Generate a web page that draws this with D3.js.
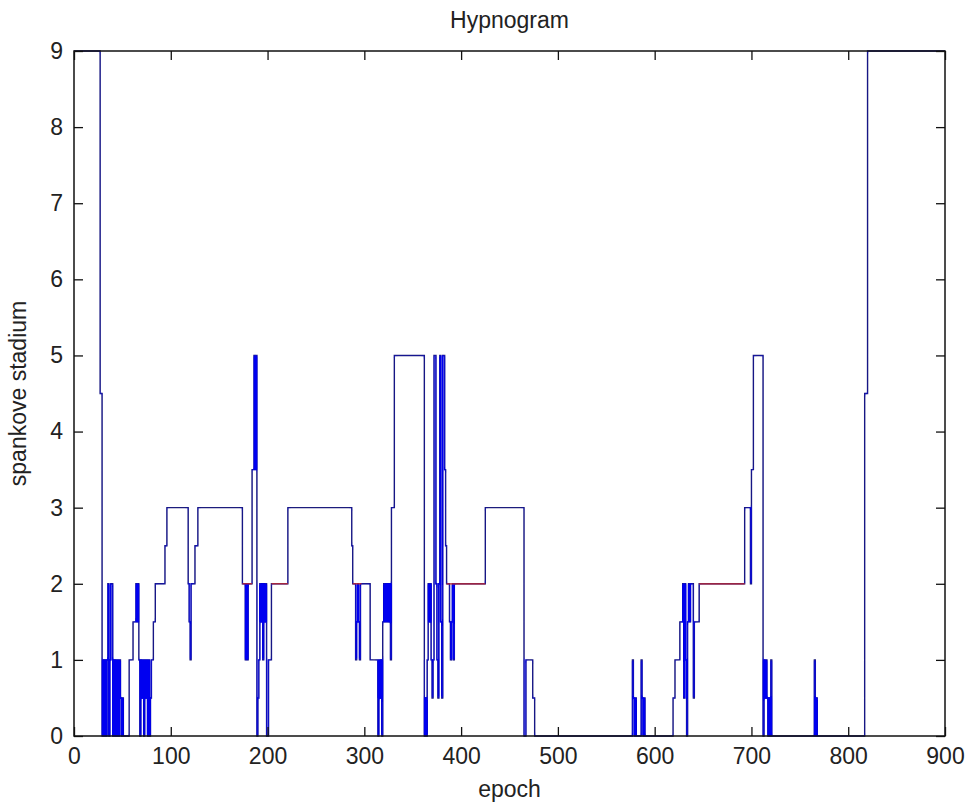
<!DOCTYPE html>
<html>
<head>
<meta charset="utf-8">
<script src="https://cdn.jsdelivr.net/npm/d3@7"></script>
<style>
  html, body { margin: 0; padding: 0; background: #fff; }
  svg { display: block; }
  text { font-family: "Liberation Sans", Arial, sans-serif; fill: #222; }
</style>
</head>
<body>
<svg id="chart" width="969" height="807"></svg>
<script>
// ---- data ----
const title = "Hypnogram";
const xLabel = "epoch";
const yLabel = "spankove stadium";
const xTicks = [0, 100, 200, 300, 400, 500, 600, 700, 800, 900];
const yTicks = [0, 1, 2, 3, 4, 5, 6, 7, 8, 9];

// stage changes: stage stepStage[i] holds from epoch stepEpoch[i] to the next change
const stepEpoch = [
  0, 27, 29, 30, 31, 32, 33, 34, 35, 36, 37, 38, 40, 41, 42, 43, 44, 45, 46, 47, 48, 49, 50, 51,
  57, 61, 64, 65, 66, 67, 68, 69, 70, 71, 72, 73, 74, 75, 76, 77, 78, 79, 80, 82, 84, 94, 96,
  118, 119, 120, 121, 125, 128,
  174, 177, 178, 179, 180, 184, 186, 187, 188, 189, 190, 191, 192, 193, 194, 195, 196, 197, 198,
  199, 201, 204, 221,
  287, 288, 291, 292, 293, 294, 295, 296, 306, 314, 315, 316, 317, 318, 319, 320, 321, 322, 323,
  324, 325, 326, 327, 328, 331,
  362, 363, 364, 365, 366, 367, 368, 369, 370, 371, 372, 374, 375, 376, 377, 378, 379, 380, 381,
  383, 384, 385, 388, 389, 390, 391, 392, 393, 425,
  465, 467, 474, 476,
  577, 578, 579, 580, 581, 586, 587, 588, 589, 590,
  619, 621, 626, 629, 630, 631, 632, 633, 634, 635, 636, 637, 640, 641, 646, 693, 699, 700, 702,
  712, 713, 714, 715, 716, 717, 718, 719, 720, 721,
  765, 766, 767, 768, 817, 820, 900
];
const stepStage = [
  9, 4.5, 0, 1, 0, 1, 0, 1, 2, 0, 1, 2, 0, 1, 0, 1, 0, 1, 0, 1, 0.5, 0, 0.5, 0,
  1, 1.5, 2, 1.5, 2, 1, 0, 1, 0.5, 1, 0, 1, 0.5, 1, 0, 1, 0, 0.5, 1, 1.5, 2, 2.5, 3,
  2, 1.5, 1, 2, 2.5, 3,
  2, 1, 2, 1, 2, 3.5, 5, 3.5, 5, 0, 0.5, 1, 2, 1.5, 2, 1, 2, 1.5, 2,
  0, 1, 2, 3,
  2.5, 2, 1, 1.5, 2, 1.5, 1, 2, 1, 0, 1, 0.5, 1, 0, 1.5, 2, 1.5, 2, 1.5,
  2, 1.5, 2, 1, 3, 5,
  0, 0.5, 0, 1, 2, 1.5, 2, 1, 0.5, 1, 5, 2, 1, 0.5, 2, 5, 1.5, 0.5, 5,
  3.5, 2.5, 2, 1.5, 1, 1.5, 2, 1, 2, 3,
  0, 1, 0.5, 0,
  1, 0.5, 0, 0.5, 0, 1, 0.5, 0, 0.5, 0,
  0.5, 1, 1.5, 2, 0.5, 2, 1, 0, 1.5, 2, 1.5, 2, 0.5, 1.5, 2, 3, 2, 3.5, 5,
  0, 1, 0.5, 1, 0.5, 0, 0.5, 0, 1, 0,
  1, 0, 0.5, 0, 4.5, 9, 9
];

// stage-2 plateaus drawn in red
const redStart = [174, 204, 288, 385, 646];
const redEnd   = [184, 221, 297, 425, 693];
const redStage = 2;

// ---- layout ----
const svg = d3.select("#chart");
const mLeft = 74, mRight = 945, mTop = 51, mBottom = 736;
const x = d3.scaleLinear().domain([0, 900]).range([mLeft, mRight]);
const y = d3.scaleLinear().domain([0, 9]).range([mBottom, mTop]);

svg.append("rect").attr("width", 969).attr("height", 807).attr("fill", "#fff");

// filter: thin isolated lines stay dark navy, dense clusters turn bright blue
const defs = svg.append("defs");
const f = defs.append("filter").attr("id", "dense")
  .attr("filterUnits", "userSpaceOnUse")
  .attr("x", 0).attr("y", 0).attr("width", 969).attr("height", 807);
f.append("feGaussianBlur").attr("in", "SourceAlpha").attr("stdDeviation", 1.4).attr("result", "blur");
f.append("feComponentTransfer").attr("in", "blur").attr("result", "dens")
  .append("feFuncA").attr("type", "linear").attr("slope", 2.6).attr("intercept", -0.85);
f.append("feFlood").attr("flood-color", "#0000f0").attr("result", "blue");
f.append("feComposite").attr("in", "blue").attr("in2", "dens").attr("operator", "in").attr("result", "bd");
f.append("feComposite").attr("in", "bd").attr("in2", "SourceAlpha").attr("operator", "in").attr("result", "bm");
const fm = f.append("feMerge");
fm.append("feMergeNode").attr("in", "SourceGraphic");
fm.append("feMergeNode").attr("in", "bm");

// data line
const pts = stepEpoch.map((e, i) => ({ e, v: stepStage[i] }));
const line = d3.line().x(d => x(d.e)).y(d => y(d.v)).curve(d3.curveStepAfter);
svg.append("g").attr("filter", "url(#dense)")
  .append("path")
  .datum(pts)
  .attr("d", line)
  .attr("fill", "none")
  .attr("stroke", "#1c1c7c")
  .attr("stroke-width", 1.4);

// red stage-2 segments
const redLine = d3.line().x(d => x(d[0])).y(d => y(d[1]));
redStart.forEach((s, i) => {
  svg.append("path")
    .attr("d", redLine([[s, redStage], [redEnd[i], redStage]]))
    .attr("fill", "none")
    .attr("stroke", "#c42a2a")
    .attr("stroke-width", 1.2);
});

// axes
const fontSize = 23;
const gx = svg.append("g").attr("transform", `translate(0,${mBottom})`)
  .call(d3.axisBottom(x).tickValues(xTicks).tickSizeInner(-9).tickSizeOuter(0).tickPadding(12));
const gxt = svg.append("g").attr("transform", `translate(0,${mTop})`)
  .call(d3.axisTop(x).tickValues(xTicks).tickSizeInner(-9).tickSizeOuter(0).tickFormat(""));
const gy = svg.append("g").attr("transform", `translate(${mLeft},0)`)
  .call(d3.axisLeft(y).tickValues(yTicks).tickSizeInner(-9).tickSizeOuter(0).tickPadding(11));
const gyr = svg.append("g").attr("transform", `translate(${mRight},0)`)
  .call(d3.axisRight(y).tickValues(yTicks).tickSizeInner(-9).tickSizeOuter(0).tickFormat(""));
[gx, gxt, gy, gyr].forEach(g => {
  g.select(".domain").remove();
  g.selectAll("line").attr("stroke", "#111").attr("stroke-width", 1.3);
  g.selectAll("text").attr("font-size", fontSize)
    .attr("font-family", '"Liberation Sans", Arial, sans-serif').attr("fill", "#222");
});

// box
svg.append("rect")
  .attr("x", mLeft).attr("y", mTop)
  .attr("width", mRight - mLeft).attr("height", mBottom - mTop)
  .attr("fill", "none").attr("stroke", "#111").attr("stroke-width", 1.5);

// labels
svg.append("text").attr("x", (mLeft + mRight) / 2).attr("y", 28)
  .attr("text-anchor", "middle").attr("font-size", fontSize).text(title);
svg.append("text").attr("x", (mLeft + mRight) / 2).attr("y", 797)
  .attr("text-anchor", "middle").attr("font-size", fontSize).text(xLabel);
svg.append("text")
  .attr("transform", `translate(26,${(mTop + mBottom) / 2}) rotate(-90)`)
  .attr("text-anchor", "middle").attr("font-size", fontSize).text(yLabel);
</script>
</body>
</html>
